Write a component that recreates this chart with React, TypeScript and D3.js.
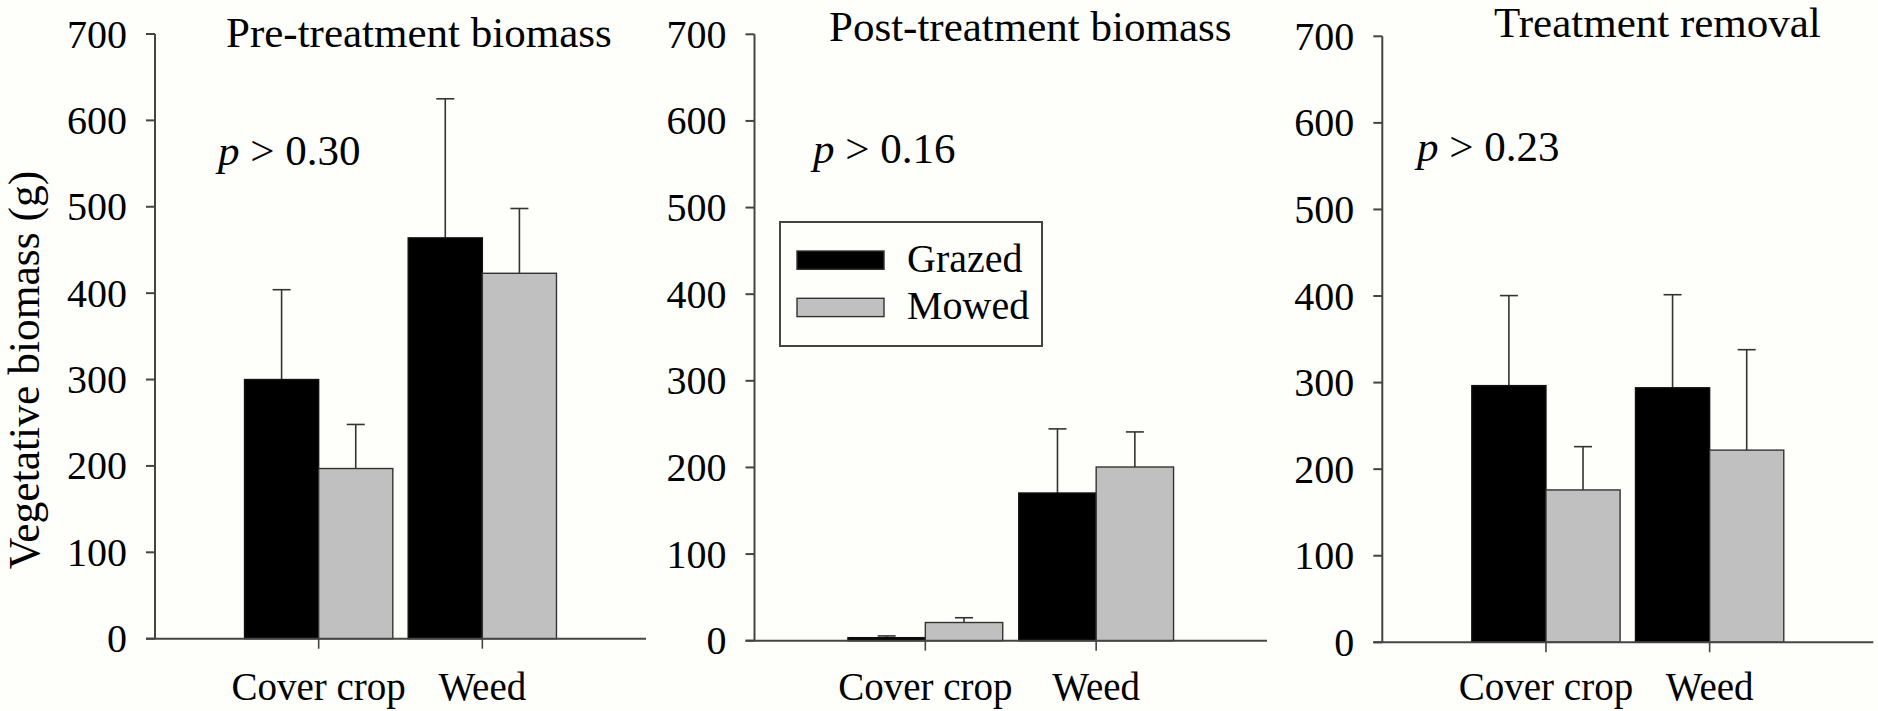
import * as d3 from "d3";

const categories = ["Cover crop", "Weed"];
const seriesNames = ["Grazed", "Mowed"];
const seriesColors = ["#000000", "#c0c0c0"];
const panelTitles = ["Pre-treatment biomass", "Post-treatment biomass", "Treatment removal"];
const pValues = ["0.30", "0.16", "0.23"];
const yTicks = [0, 100, 200, 300, 400, 500, 600, 700];

// means per panel, [cover crop, weed]
const preGrazed = [300, 464];
const preMowed = [197, 423];
const postGrazed = [3.5, 170.5];
const postMowed = [21, 200.5];
const removalGrazed = [296.5, 294];
const removalMowed = [176, 222];

// standard errors (upper bars only)
const preGrazedSe = [104, 161];
const preMowedSe = [51, 75];
const postGrazedSe = [2, 74];
const postMowedSe = [5.5, 40.5];
const removalGrazedSe = [104, 107.5];
const removalMowedSe = [50, 116];

const W = 1878;
const H = 711;
const FONT = "Liberation Serif, Times New Roman, Times, Tinos, DejaVu Serif, serif";
const AXIS = "#444";

const panels = [
  { left: 155, right: 646, top: 34, bottom: 638.7, titleX: 226, titleY: 47, pX: 218, pY: 165,
    means: [preGrazed, preMowed], ses: [preGrazedSe, preMowedSe] },
  { left: 754.5, right: 1267, top: 34.3, bottom: 640.7, titleX: 829, titleY: 41, pX: 813, pY: 163,
    means: [postGrazed, postMowed], ses: [postGrazedSe, postMowedSe] },
  { left: 1382.3, right: 1873.3, top: 36.3, bottom: 642.3, titleX: 1494, titleY: 37, pX: 1417, pY: 161,
    means: [removalGrazed, removalMowed], ses: [removalGrazedSe, removalMowedSe] },
];

const Panel = ({ p, i }: { p: (typeof panels)[number]; i: number }) => {
  const x = d3.scaleLinear().domain([0, categories.length + 1]).range([p.left, p.right]);
  const y = d3.scaleLinear().domain([0, 700]).range([p.bottom, p.top]);
  const unit = x(1) - x(0);
  const bw = unit * 0.453;
  const cap = 9;

  return (
    <g>
      {/* bars + error bars */}
      {categories.map((c, ci) =>
        seriesNames.map((s, si) => {
          const v = p.means[si][ci];
          const e = p.ses[si][ci];
          const x0 = x(ci + 1) + (si === 0 ? -bw : 0);
          const cx = x0 + bw / 2;
          return (
            <g key={c + s}>
              <line x1={cx} x2={cx} y1={y(v)} y2={y(v + e)} stroke="#333" strokeWidth={1.6} />
              <line x1={cx - cap} x2={cx + cap} y1={y(v + e)} y2={y(v + e)} stroke="#333" strokeWidth={1.6} />
              <rect x={x0} y={y(v)} width={bw} height={y(0) - y(v)} fill={seriesColors[si]}
                stroke={si === 0 ? "#111" : "#333"} strokeWidth={1.4} />
            </g>
          );
        })
      )}

      {/* y axis */}
      <line x1={p.left} x2={p.left} y1={y(700)} y2={y(0)} stroke={AXIS} strokeWidth={2} />
      {yTicks.map((t) => (
        <g key={t}>
          <line x1={p.left - 9} x2={p.left} y1={y(t)} y2={y(t)} stroke={AXIS} strokeWidth={2} />
          <text x={p.left - 28} y={y(t) + 13.5} textAnchor="end" fontSize={40} fontFamily={FONT}>{t}</text>
        </g>
      ))}

      {/* x axis */}
      <line x1={p.left - 9} x2={p.right} y1={y(0)} y2={y(0)} stroke={AXIS} strokeWidth={2} />
      {categories.map((c, ci) => (
        <g key={c}>
          <line x1={x(ci + 1)} x2={x(ci + 1)} y1={y(0)} y2={y(0) + 10} stroke={AXIS} strokeWidth={1.6} />
          <text x={x(ci + 1)} y={700} textAnchor="middle" fontSize={39} fontFamily={FONT}>{c}</text>
        </g>
      ))}

      <text x={p.titleX} y={p.titleY} fontSize={43} fontFamily={FONT}>{panelTitles[i]}</text>
      <text x={p.pX} y={p.pY} fontSize={43} fontFamily={FONT}>
        <tspan fontStyle="italic">p</tspan> &gt; {pValues[i]}
      </text>
    </g>
  );
};

export default function App() {
  return (
    <svg width={W} height={H} style={{ position: "absolute", left: 0, top: 0, display: "block" }}>
      <rect width={W} height={H} fill="#fefefb" />
      {panels.map((p, i) => (
        <Panel key={i} p={p} i={i} />
      ))}

      <text transform="translate(39,370) rotate(-90)" textAnchor="middle" fontSize={43.5} fontFamily={FONT}>
        Vegetative biomass (g)
      </text>

      {/* legend */}
      <rect x={780} y={222} width={262} height={124} fill="#fefefb" stroke={AXIS} strokeWidth={2} />
      {seriesNames.map((s, si) => (
        <g key={s}>
          <rect x={797} y={251 + si * 47.3} width={87} height={18.3} fill={seriesColors[si]} stroke="#333" strokeWidth={1.4} />
          <text x={907} y={271.5 + si * 47.6} fontSize={40} fontFamily={FONT}>{s}</text>
        </g>
      ))}
    </svg>
  );
}
